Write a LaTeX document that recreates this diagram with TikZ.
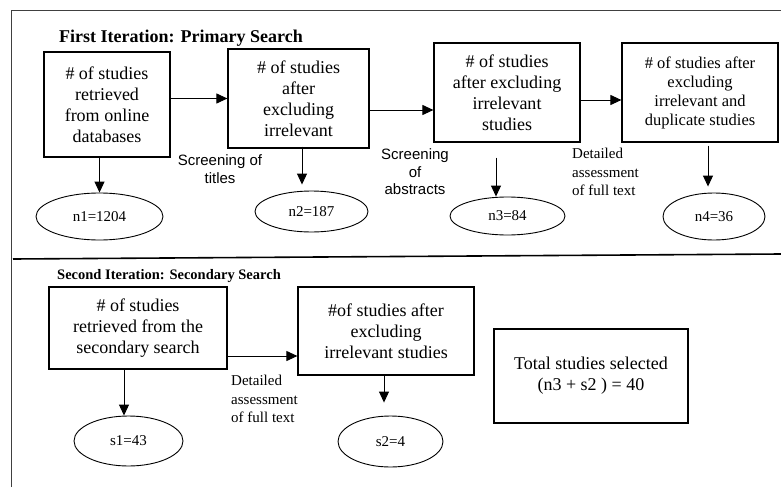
\documentclass[tikz,border=0pt]{standalone}
\usepackage{fontspec}
\setmainfont{Liberation Serif}
\setsansfont{Liberation Sans}
\usetikzlibrary{shapes.geometric, arrows, calc, positioning, arrows.meta}
\tikzstyle{stage} = [rectangle, draw=black, line width=1.2pt, inner sep=0pt, align=center, font=\fontsize{18}{21}\selectfont]
\tikzstyle{count} = [ellipse, draw=black, line width=0.9pt, inner sep=0pt, font=\fontsize{15}{18}\selectfont]
\tikzstyle{note} = [align=center, inner sep=0pt, font=\sffamily\fontsize{15}{17.5}\selectfont]
\tikzstyle{assess} = [align=left, anchor=west, inner sep=0pt, font=\fontsize{15}{18.5}\selectfont]
\tikzstyle{arrow} = [line width=1pt,-{Triangle[length=11pt,width=10pt]}]

\begin{document}
\begin{tikzpicture}[x=1pt, y=-1pt]
	\useasboundingbox (0,0) rectangle (781,487);
	% frame and divider
	\draw[line width=1pt, black!75] (11,487) -- (11,10.5) -- (781,10.5);
	\draw[line width=1.6pt] (13,259) -- (781,254);

	% first iteration
	\node (Title1) [anchor=west, inner sep=0pt, font=\bfseries\fontsize{18}{21}\selectfont] at (59,38) {First Iteration: Primary Search};
	\node (Retrieved) [stage, minimum width=126pt, minimum height=105pt] at (107,104.5) {\# of studies\\retrieved\\from online\\databases};
	\node (Titles) [stage, minimum width=141pt, minimum height=99pt] at (298.5,98.5) {\# of studies\\after\\excluding\\irrelevant};
	\node (Abstracts) [stage, minimum width=146pt, minimum height=99pt] at (507,92.5) {\# of studies\\after excluding\\irrelevant\\studies};
	\node (Fulltext) [stage, minimum width=156pt, minimum height=99pt, font=\fontsize{16.5}{19}\selectfont] at (700,92.5) {\# of studies after\\excluding\\irrelevant and\\duplicate studies};
	\node (n1) [count, minimum width=127pt, minimum height=47pt] at (99.5,216.5) {n1=1204};
	\node (n2) [count, minimum width=113pt, minimum height=41pt] at (311.5,211.5) {n2=187};
	\node (n3) [count, minimum width=115pt, minimum height=38pt] at (507.5,216) {n3=84};
	\node (n4) [count, minimum width=102pt, minimum height=47pt] at (714,216.5) {n4=36};
	\node (ScrTitles) [note] at (220,169) {Screening of\\titles};
	\node (ScrAbstracts) [note] at (415,172) {Screening\\of\\abstracts};
	\node (Detailed1) [assess] at (572,172) {Detailed\\assessment\\of full text};

	\draw[arrow] (Retrieved.east |- Titles.west) -- (Titles.west);
	\draw[arrow] ([yshift=-11.5pt]Titles.east) -- ([yshift=-11.5pt]Titles.east -| Abstracts.west);
	\draw[arrow] ([yshift=-7.5pt]Abstracts.east) -- ([yshift=-7.5pt]Abstracts.east -| Fulltext.west);
	\draw[arrow] (n1.north |- Retrieved.south) -- (n1.north);
	\draw[arrow, shorten <=-2pt, shorten >=6pt] ([xshift=3.5pt]Titles.south) -- ([xshift=3.5pt]Titles.south |- n2.north);
	\draw[arrow, shorten <=15pt] ([xshift=-11pt]Abstracts.south) -- ([xshift=-11pt]Abstracts.south |- n3.north);
	\draw[arrow, shorten <=3pt, shorten >=6pt] ([xshift=8pt]Fulltext.south) -- ([xshift=8pt]Fulltext.south |- n4.north);

	% second iteration
	\node (Title2) [anchor=west, inner sep=0pt, font=\bfseries\fontsize{14.5}{17}\selectfont] at (57,276) {Second Iteration: Secondary Search};
	\node (Secondary) [stage, minimum width=178pt, minimum height=82pt] at (138,328) {\# of studies\\retrieved from the\\secondary search};
	\node (Excluded) [stage, minimum width=176pt, minimum height=88pt] at (386,331) {\#of studies after\\excluding\\irrelevant studies};
	\node (Total) [stage, minimum width=194pt, minimum height=94pt] at (591,376) {Total studies selected\\(n3 + s2 ) = 40};
	\node (s1) [count, minimum width=109pt, minimum height=50pt] at (128.5,441) {s1=43};
	\node (s2) [count, minimum width=105pt, minimum height=51pt] at (390.5,441.5) {s2=4};
	\node (Detailed2) [assess] at (231,399) {Detailed\\assessment\\of full text};

	\draw[arrow] ([yshift=-28pt]Secondary.east) -- ([yshift=-28pt]Secondary.east -| Excluded.west);
	\draw[arrow] ([xshift=-14pt]Secondary.south) -- ([xshift=-14pt]Secondary.south |- s1.north);
	\draw[arrow, shorten >=13pt] ([xshift=-2pt]Excluded.south) -- ([xshift=-2pt]Excluded.south |- s2.north);
\end{tikzpicture}
\end{document}
